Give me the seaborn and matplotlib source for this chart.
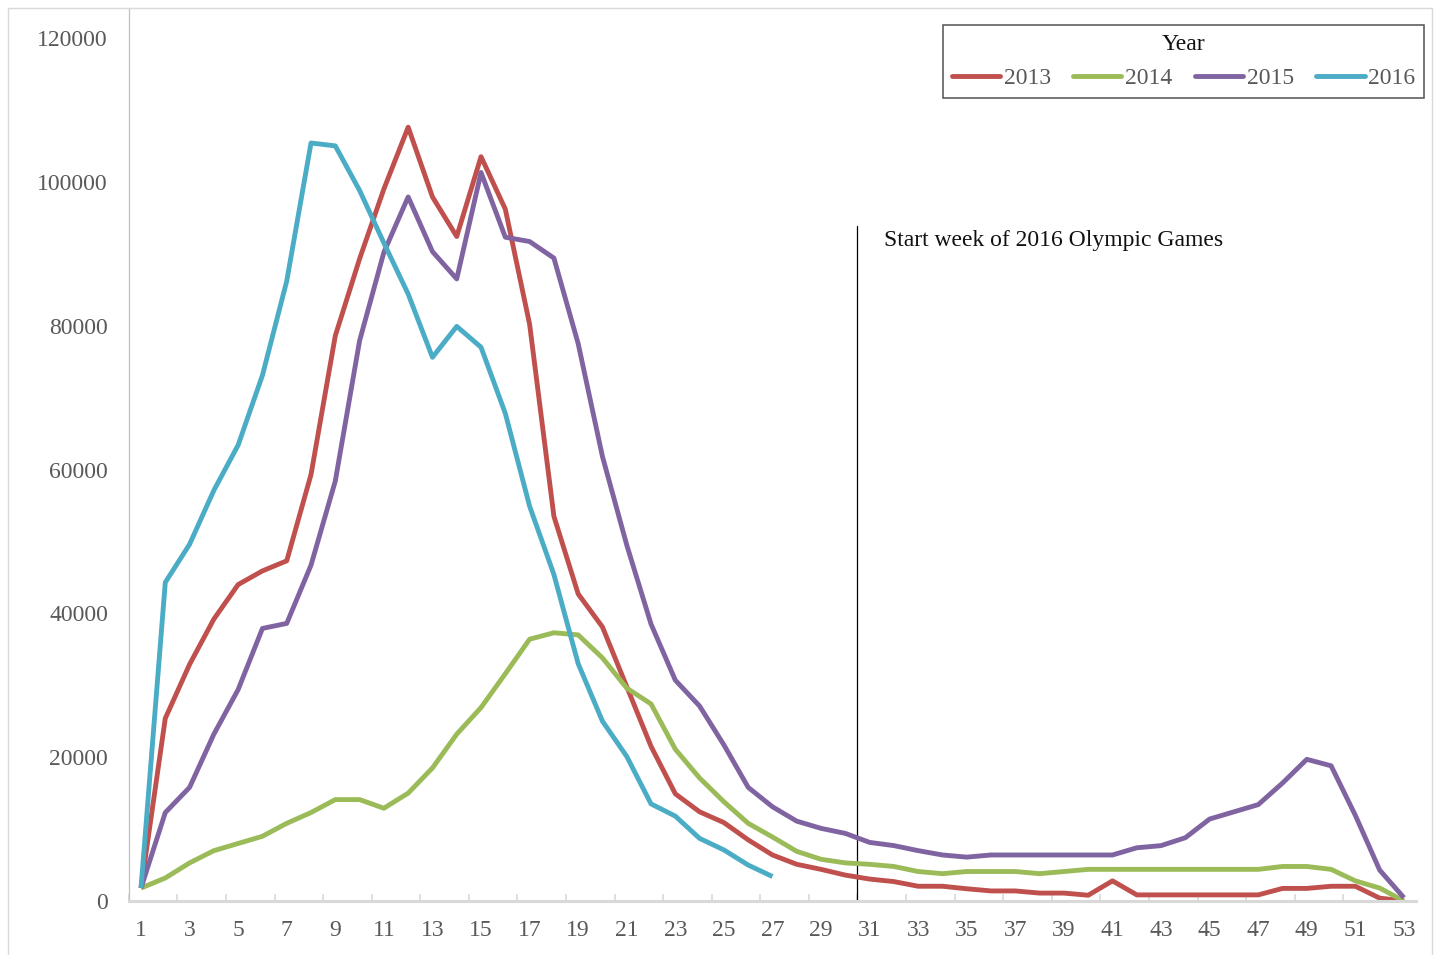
import matplotlib
matplotlib.use("Agg")
import matplotlib.pyplot as plt
from matplotlib.patches import Rectangle
from matplotlib.lines import Line2D
import seaborn as sns
import pandas as pd
import numpy as np

weeks = list(range(1, 54))

y2013 = [1800, 25400, 32900, 39200, 44000, 45900, 47300, 59300, 78600, 89300,
         99000, 107600, 97900, 92400, 103500, 96200, 80200, 53500, 42700, 38100,
         29800, 21500, 14900, 12400, 10900, 8500, 6400, 5100, 4400, 3600,
         3050, 2700, 2050, 2050, 1700, 1400, 1400, 1100, 1100, 800,
         2800, 850, 850, 850, 850, 850, 850, 1750, 1750, 2050,
         2050, 400, 0]
y2014 = [1800, 3200, 5300, 7000, 8000, 9000, 10800, 12300, 14100, 14100,
         12900, 15000, 18500, 23200, 26900, 31600, 36400, 37300, 37000, 33800,
         29600, 27400, 21100, 17100, 13800, 10800, 8900, 6900, 5800, 5300,
         5100, 4800, 4100, 3800, 4100, 4100, 4100, 3800, 4100, 4400,
         4400, 4400, 4400, 4400, 4400, 4400, 4400, 4800, 4800, 4400,
         2800, 1800, 0]
y2015 = [1800, 12300, 15800, 23200, 29400, 37900, 38600, 46700, 58400, 77900,
         90200, 97900, 90300, 86500, 101300, 92300, 91700, 89400, 77500, 61800,
         49500, 38500, 30700, 27100, 21700, 15800, 13100, 11100, 10100, 9400,
         8150, 7700, 7000, 6400, 6100, 6400, 6400, 6400, 6400, 6400,
         6400, 7400, 7700, 8800, 11400, 12400, 13400, 16400, 19700, 18800,
         11900, 4300, 450]
y2016 = [1800, 44300, 49600, 57100, 63400, 73100, 86200, 105400, 105000, 98800,
         91500, 84400, 75600, 79900, 77000, 67800, 54900, 45400, 33000, 25000,
         20100, 13500, 11800, 8700, 7100, 5000, 3400]

years = ["2013", "2014", "2015", "2016"]
series = [y2013, y2014, y2015, y2016]
colors = ["#C0504D", "#9BBB59", "#8064A2", "#4BACC6"]

x_labels = list(range(1, 54, 2))
y_ticks = [0, 20000, 40000, 60000, 80000, 100000, 120000]
annotation = "Start week of 2016 Olympic Games"
olympic_week = 30.5
olympic_top = 93800

rows = []
for yr, vals in zip(years, series):
    for w, v in zip(weeks, vals):
        rows.append({"Week": w, "Cases": v, "Year": yr})
df = pd.DataFrame(rows)

sns.set_theme(style="white")
plt.rcParams["font.family"] = ["Liberation Serif", "DejaVu Serif"]

W, H = 1435, 955
fig = plt.figure(figsize=(W / 100, H / 100), dpi=100)
ax = fig.add_axes([128.86 / W, 1 - 901 / H, (1416.1 - 128.86) / W, (901 - 8) / H])

sns.lineplot(data=df, x="Week", y="Cases", hue="Year", hue_order=years,
             palette=colors, linewidth=3.5, ax=ax, legend=False,
             solid_joinstyle="round", solid_capstyle="butt", sort=False,
             errorbar=None)

ax.set_xlim(0.5, 53.5)
ax.set_ylim(0, (901 - 8) / (863 / 120000))

ax.set_xticks(x_labels)
ax.set_xticklabels([str(v) for v in x_labels])
ax.set_xticks(np.arange(0.5, 53, 2), minor=True)
ax.set_yticks(y_ticks)
ax.set_yticklabels([str(v) for v in y_ticks])
ax.tick_params(axis="x", which="major", length=0, pad=14, labelsize=17,
               labelcolor="#595959")
ax.tick_params(axis="x", which="minor", length=5, width=1.2, direction="in",
               color="#D9D9D9", bottom=True)
ax.tick_params(axis="y", length=0, pad=15, labelsize=17, labelcolor="#595959")
ax.set_xlabel("")
ax.set_ylabel("")

for s in ["top", "right"]:
    ax.spines[s].set_visible(False)
ax.spines["left"].set_color("#BFBFBF")
ax.spines["left"].set_linewidth(0.9)
ax.spines["bottom"].set_color("#D9D9D9")
ax.spines["bottom"].set_linewidth(2.2)

ax.plot([olympic_week, olympic_week], [0, olympic_top], color="black",
        linewidth=0.9, zorder=1)
ax.text(31.6, 91800, annotation, fontsize=17, color="#111111",
        va="center", ha="left")

handles = [Line2D([0], [0], color=c, linewidth=3.5, solid_capstyle="round")
           for c in colors]
leg = ax.legend(handles, years, title="Year", ncol=4, loc="upper right",
                bbox_to_anchor=(1424 / W, 1 - 25 / H),
                bbox_transform=fig.transFigure,
                fontsize=17, title_fontsize=17, frameon=True, fancybox=False,
                handlelength=2.05, handletextpad=0.15, columnspacing=0.95,
                borderpad=0.37, labelspacing=0.55, borderaxespad=0)
leg.get_frame().set_edgecolor("#262626")
leg.get_frame().set_linewidth(1.1)
for t in leg.get_texts():
    t.set_color("#595959")
leg.get_title().set_color("#111111")

fig.patches.append(Rectangle((8 / W, -0.1), (1432 - 8) / W, 1.1 - 8 / H,
                             transform=fig.transFigure, fill=False,
                             edgecolor="#D9D9D9", linewidth=1))

fig.savefig("out.png", dpi=100, facecolor="white")
